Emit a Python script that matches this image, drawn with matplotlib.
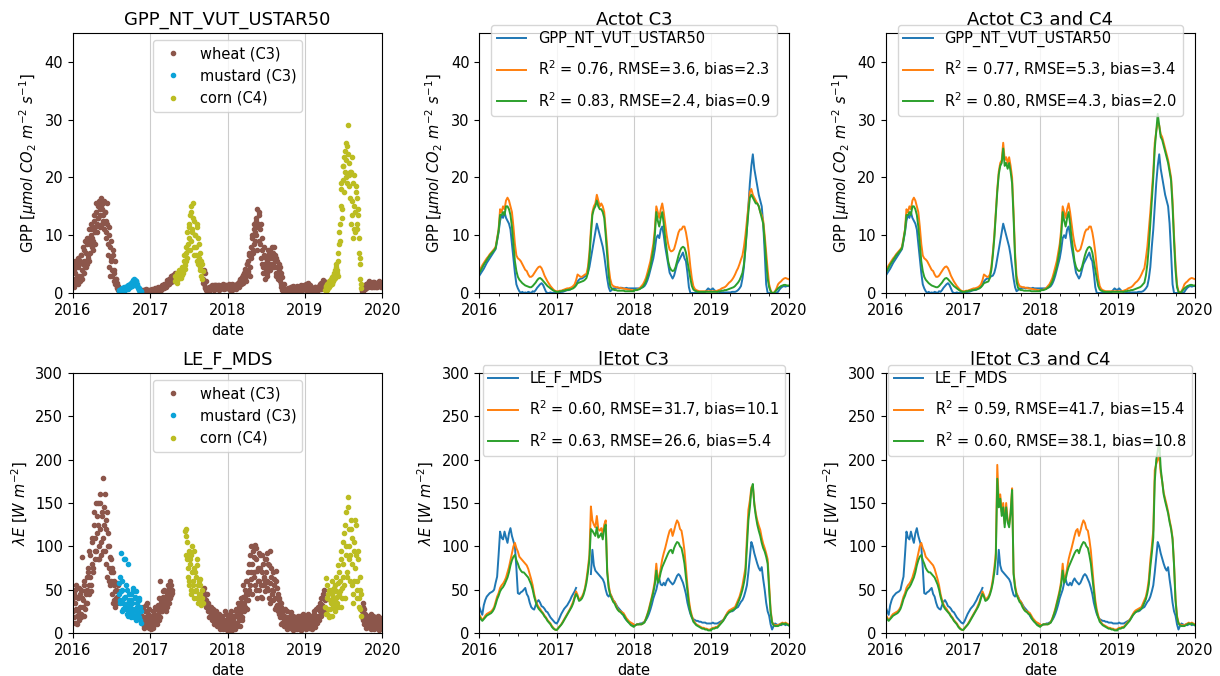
import numpy as np
import pandas as pd
import matplotlib
matplotlib.use('Agg')
from matplotlib import pyplot as plt
import matplotlib.dates as mdates

years = [2016, 2017, 2018, 2019]
nan = np.nan

# ---- weekly series (53 values per year, starting 1 Jan) ----
gpp_obs = [3, 3.4, 3.8, 4.2, 4.7, 5.2, 5.6, 6, 6.4, 6.8, 7.2, 7.6, 9,
           10.5, 12.5, 13.5, 13, 14, 13, 12.5, 12, 11, 8.5, 6, 3.5, 1.5,
           0.8, 0.3, 0, 0.2, 0, 0.1, 0, 0.2, 0.1, 0, 0.3, 0.2, 0.5,
           0.9, 1.2, 1.5, 1.7, 1.4, 0.8, 0.2, 0, 0, 0.1, 0, 0, 0, 0.1,
           0, 0, 0.1, 0.2, 0.2, 0.3, 0.4, 0.5, 0.5, 0.6, 0.8, 1, 1.2,
           1.6, 2, 2.3, 2.5, 2.5, 2.7, 2.9, 3, 3.5, 4.5, 6, 7.5, 9,
           10.5, 12, 11, 10, 9, 8, 6.5, 4.5, 2.5, 1, 0.3, 0.5, 0.8,
           0.8, 0.9, 0.9, 0.8, 0.9, 0.9, 0.8, 0.8, 0.9, 0.8, 0.8, 0.8, 0.8, 0.8,
           0.8, 0.8, 0.8, 0.8, 0.8, 0.9, 1, 1.2, 1.6, 2.2, 3, 4, 5,
           6, 7.5, 9.5, 10, 9.5, 11, 11.5, 10, 8, 6.5, 5, 3.5, 3,
           2.5, 3, 4, 5, 5.5, 6, 6.5, 7, 6, 5.5, 3.5, 1, 0,
           0, 0, 0, 0, 0, 0, 0, 0, 0, 0.2, 0.5, 0.8, 0.6, 0.5,
           0.6, 0.8, 0.5, 0.3, 0.2, 0.2, 0.1, 0.1, 0.1, 0.1, 0.1, 0.1, 0.1,
           0.1, 0.2, 0.2, 0.2, 0.3, 0.5, 0.8, 1.2, 2.5, 4.5, 8, 11, 15,
           19, 22, 24, 21.5, 20, 18.5, 17, 16, 15, 12, 7, 1.5, 0,
           0, 0, 0, 0, 0, 0, 0.2, 0.6, 0.9, 1.1, 1.2, 1.1, 1.2, 1.2]

gpp_mod1 = [4, 4.3, 4.8, 5.2, 5.6, 6, 6.3, 6.7, 7, 7.3, 7.6, 8, 9.5,
            11, 14.5, 14, 15, 14.5, 16, 16.5, 16, 15, 14, 11.5, 8.5, 6.5,
            6, 5.8, 5.5, 5, 4.5, 4, 3.8, 3.2, 2.8, 2.8, 3, 3.4, 3.8,
            4.2, 4.5, 4.6, 4.3, 3.7, 3, 2.5, 2, 1.6, 1.2, 0.9, 0.6, 0.4, 0.3,
            0.3, 0.3, 0.4, 0.4, 0.5, 0.6, 0.7, 0.8, 0.8, 0.9, 1, 1.2, 1.5,
            2.2, 3.2, 3, 2.8, 2.8, 3, 3.2, 3.3, 4.5, 7, 11, 14, 15,
            15.5, 17, 16, 15, 15.5, 15, 14, 11, 8, 4.5, 2.5, 1.5, 1.2,
            1.1, 1, 1, 0.9, 0.9, 0.8, 0.8, 0.7, 0.7, 0.6, 0.6, 0.5, 0.5, 0.5,
            0.5, 0.5, 0.6, 0.7, 0.9, 1.2, 1.5, 2, 2.6, 3.5, 4.5, 5.5, 7,
            8.5, 11, 15, 14, 13, 14.5, 15.5, 14, 12, 10, 8.5, 7.5, 7.2,
            7.3, 7.6, 8.5, 9.5, 10.5, 11, 11, 11.5, 11.5, 10.5, 9, 7, 4.5,
            2.5, 1.2, 0.7, 0.5, 0.4, 0.3, 0.3, 0.3, 0.3, 0.3, 0.3, 0.3, 0.3, 0.3,
            0.3, 0.3, 0.3, 0.3, 0.4, 0.5, 0.6, 0.8, 0.9, 1, 1.2, 1.5, 1.8,
            2, 2.3, 2.7, 3.2, 3.8, 4.3, 5, 5.8, 6.5, 8, 10, 12.5, 15,
            17.5, 18, 17, 16.5, 16, 15.5, 15, 14, 13.5, 12.5, 10, 7, 4,
            1.5, 0.5, 0, 0, 0.3, 0.8, 1.5, 1.8, 2, 2.3, 2.5, 2.6, 2.5, 2.4]

gpp_mod2 = [3.5, 3.9, 4.4, 4.9, 5.3, 5.7, 6.1, 6.5, 6.8, 7.1, 7.4, 7.8, 9.2,
            10.8, 13.5, 13.5, 14, 13.5, 15, 15, 14.5, 13.5, 11.5, 8.5, 5.5, 3.8,
            2.8, 2.3, 2, 1.7, 1.5, 1.3, 1.2, 1.1, 1, 1, 1.2, 1.5, 1.8,
            2.2, 2.5, 2.6, 2.4, 2.1, 1.8, 1.5, 1.2, 1, 0.8, 0.6, 0.4, 0.3, 0.2,
            0.2, 0.2, 0.3, 0.3, 0.4, 0.4, 0.5, 0.5, 0.6, 0.6, 0.7, 0.8, 1,
            1.3, 1.7, 1.8, 1.9, 2, 2.1, 2.3, 2.6, 3.5, 6, 10, 13.5, 14.5,
            15, 16, 15, 14.5, 14.5, 14, 13, 10, 6.5, 3, 1.2, 0.8, 0.6,
            0.5, 0.5, 0.4, 0.4, 0.4, 0.4, 0.4, 0.3, 0.3, 0.3, 0.3, 0.3, 0.3, 0.3,
            0.5, 0.5, 0.5, 0.6, 0.7, 0.9, 1.1, 1.5, 2, 2.8, 3.6, 4.5, 6,
            7.5, 10, 14, 12.5, 11.5, 13, 14, 12, 9.5, 7.5, 5.5, 4.5, 4,
            3.8, 3.9, 4.5, 5.5, 6.5, 7.3, 7.8, 8, 7.8, 7, 5.5, 4, 2.5,
            1.2, 0.6, 0.4, 0.3, 0.2, 0.2, 0.2, 0.2, 0.2, 0.2, 0.2, 0.2, 0.2, 0.2,
            0.2, 0.2, 0.2, 0.2, 0.2, 0.3, 0.3, 0.4, 0.4, 0.5, 0.5, 0.6, 0.7,
            0.8, 0.9, 1, 1.2, 1.5, 1.8, 2.2, 2.8, 3.5, 5, 7.5, 11, 14,
            16.5, 17, 16.5, 16, 15.5, 15.5, 15, 14, 13, 12, 9, 5.5, 2.5,
            1, 0.3, 0, 0, 0.2, 0.5, 0.8, 1, 1.2, 1.3, 1.4, 1.4, 1.3, 1.3]

# corn seasons when the C4 pathway is switched on (year, first week, values)
gpp_mod1_c4 = [(2017, 13, [2.2, 3.2, 3, 2.8, 2.8, 3.2, 4.5, 7, 10, 14, 18, 21, 22.5, 23,
                           26, 23, 23.5, 22.5, 23.5, 22, 20, 14, 7, 3, 1.8, 1.2, 1.1, 1.0]),
               (2019, 17, [3.8, 4.3, 6, 8, 11, 14, 17.5, 21, 26, 28, 29.5, 29, 27.5,
                           27, 26, 25, 24, 23, 21.5, 20, 16, 10, 5, 1.5, 0.3, 0])]
gpp_mod2_c4 = [(2017, 13, [1.3, 1.7, 1.8, 1.9, 2, 2.6, 4, 6.5, 9.5, 13.5, 17.5, 20.5, 22, 22.5,
                           25, 22, 22.5, 21.5, 22.5, 21, 19, 13, 6, 2, 0.9, 0.6, 0.5, 0.5]),
               (2019, 17, [1.5, 1.8, 3, 5, 8, 12, 16, 20, 25, 28, 31, 29, 27,
                           26.5, 25.5, 24.5, 23.5, 22.5, 21, 19.5, 15, 9, 4, 1, 0.2, 0])]

le_obs = [30, 25, 21, 32, 38, 42, 44, 46, 47, 48, 50, 58, 65,
          90, 117, 110, 108, 117, 110, 104, 115, 121, 112, 106, 100, 75,
          46, 45, 47, 48, 50, 52, 45, 42, 35, 30, 28, 27, 32,
          36, 38, 35, 31, 30, 28, 25, 24, 21, 18, 16, 14, 12, 11,
          11, 14, 18, 22, 25, 28, 30, 32, 35, 38, 42, 45, 48,
          52, nan, nan, nan, nan, nan, nan, nan, nan, nan, 68, 96, 78,
          72, 70, 68, 66, 64, 62, 58, 50, 44, 42, 45, 42, 38,
          36, 33, 30, 28, 26, 24, 20, 17, 15, 13, 12, 11, 10, 9,
          9, 9, 10, 10, 11, 11, 12, 13, 15, 18, 22, 27, 33,
          40, 45, 50, 58, 62, 56, 55, 58, 55, 60, 63, 60, 58,
          56, 58, 62, 66, 68, 66, 62, 58, 52, 45, 35, 28, 22,
          18, 16, 15, 14, 14, 13, 13, 12, 12, 12, 11, 11, 11, 11,
          11, 12, 11, 11, 11, 12, 13, 14, 15, 17, 20, 23, 24,
          25, 25, 26, 28, 29, 30, 33, 36, 38, 42, 48, 55, 70,
          88, 105, 100, 92, 86, 80, 75, 72, 76, 62, 50, 35, 25,
          20, 10, 4, 8, 11, 10, 9, 10, 9, 10, 11, 9, 10, 9]

le_mod1 = [21, 18, 15, 17, 20, 22, 23, 24, 25, 27, 30, 36, 42,
           46, 52, 55, 57, 60, 64, 70, 76, 84, 92, 100, 104, 98,
           94, 88, 86, 84, 82, 80, 78, 74, 68, 62, 55, 45, 38,
           33, 30, 28, 25, 23, 20, 18, 15, 13, 11, 8, 6, 4, 3.5,
           3.5, 6, 8, 10, 13, 16, 19, 22, 25, 28, 32, 36, 42,
           48, 44, 38, 40, 42, 46, 52, 62, 75, 90, 146, 130, 125,
           122, 135, 120, 118, 121, 115, 125, 130, 73, 55, 46, 42, 38,
           36, 32, 28, 26, 25, 24, 23, 20, 17, 15, 13, 12, 11, 10,
           8, 9, 10, 10, 10, 10, 11, 13, 17, 22, 28, 35, 42,
           50, 60, 80, 62, 65, 75, 85, 92, 98, 105, 112, 118, 120,
           112, 118, 125, 130, 127, 120, 118, 108, 95, 75, 55, 38, 27,
           20, 15, 12, 10, 9, 8, 7, 6, 6, 5, 5, 4, 4, 4,
           5, 6, 6, 7, 7, 9, 11, 13, 15, 18, 21, 24, 26,
           27, 28, 29, 30, 34, 38, 42, 48, 55, 65, 75, 110, 142,
           153, 168, 170, 150, 138, 130, 124, 119, 110, 103, 98, 92, 85,
           55, 27, 13, 10, 9, 9, 9, 10, 11, 12, 11, 12, 11, 10]

le_mod2 = [19, 16, 14, 16, 18, 20, 21, 22, 23, 25, 28, 33, 39,
           43, 48, 51, 53, 56, 60, 64, 70, 78, 84, 88, 90, 84,
           80, 75, 72, 70, 70, 68, 66, 64, 60, 56, 50, 42, 36,
           31, 28, 26, 24, 22, 19, 17, 14, 12, 10, 7, 5, 4, 3.5,
           3.5, 5.5, 7.5, 9.5, 12, 15, 18, 21, 24, 27, 30, 34, 40,
           45, 42, 37, 38, 40, 44, 50, 58, 70, 85, 120, 118, 115,
           112, 122, 110, 112, 115, 108, 120, 125, 70, 52, 44, 40, 36,
           34, 30, 27, 25, 24, 22, 21, 18, 15, 13, 11, 9, 8, 7,
           8, 9, 10, 10, 10, 10, 11, 12, 16, 21, 26, 33, 40,
           47, 56, 72, 58, 62, 70, 76, 80, 84, 88, 92, 95, 96,
           92, 98, 102, 105, 104, 100, 98, 90, 80, 64, 48, 33, 24,
           18, 13, 11, 9, 8, 7, 6, 5, 5, 4, 4, 3, 3, 3,
           4, 5, 5, 6, 6, 8, 10, 12, 14, 17, 20, 22, 24,
           25, 26, 27, 28, 31, 35, 39, 44, 50, 58, 68, 98, 130,
           145, 165, 172, 148, 135, 125, 118, 112, 104, 98, 94, 88, 80,
           50, 24, 12, 9, 8, 8, 8, 9, 10, 11, 10, 11, 10, 9]

le_mod1_c4 = [(2017, 17, [42, 46, 52, 62, 75, 92, 194, 150, 160, 140, 150, 126, 150,
                          130, 125, 140, 167, 70, 55, 46]),
              (2019, 20, [50, 62, 84, 100, 119, 188, 195, 200, 205, 185, 175, 162, 155,
                          148, 140, 130, 122, 110, 80, 40, 20, 12])]
le_mod2_c4 = [(2017, 17, [40, 44, 50, 58, 70, 86, 178, 145, 155, 135, 145, 122, 145,
                          128, 122, 138, 165, 68, 52, 44]),
              (2019, 20, [46, 56, 76, 92, 110, 175, 200, 210, 222, 190, 175, 160, 152,
                          145, 138, 128, 120, 108, 78, 38, 18, 11])]

# ---- flux tower daily values: every 4th day from 1 Jan (92 per year) ----
gpp_pts = [2.5, 4.0, 1.5, 3.5, 5.0, 2.0, 4.5, 3.0, 5.5, 3.0, 6.5, 2.5, 5.0, 7.5, 4.5,
           7.0, 5.0, 8.5, 6.0, 9.0, 7.0, 10.0, 8.0, 11.0, 9.0, 12.5, 10.5, 14.0, 12.0, 15.0,
           13.0, 16.0, 14.5, 16.5, 12.0, 15.5, 13.5, 11.0, 14.0, 9.5, 12.0, 6.5, 10.0, 4.5, 8.0,
           5.5, 3.0, 6.5, 2.0, 4.0, 1.5, 2.5, 0.8, 0.5,
           0.3, 0.5, 0.4, 0.6, 0.5, 0.8, 0.6, 0.9, 0.7, 1.0, 1.2, 0.9, 1.4, 1.1,
           1.6, 1.3, 1.9, 2.2, 1.5, 2.3, 1.8, 2.1, 1.2, 0.8, 0.5, 0.4, 0.3,
           0.2, 0.5, 0.3, 0.6, 0.4, 0.2, 0.5, 0.3, 0.6, 0.4, 0.5,
           # 2017
           0.5, 0.3, 0.6, 0.4, 0.7, 0.5, 0.3, 0.6, 0.8, 0.5, 0.9, 0.6, 1.0, 0.7, 1.1,
           1.2, 0.9, 1.5, 1.1, 1.8, 1.4, 2.0, 1.6, 2.4, 1.9, 2.8, 2.2, 3.2, 2.6,
           2.0, 2.8, 1.8, 3.2, 2.5, 3.6, 2.9, 3.8, 3.1, 4.2, 3.5, 5.5, 4.8, 7.0, 6.0, 8.5,
           9.5, 12.0, 7.5, 14.0, 10.5, 15.5, 8.0, 12.5, 10.0, 6.5, 11.5, 5.0, 8.5, 4.0, 7.0,
           3.0, 5.0,
           2.5, 1.5, 3.5, 1.0, 0.6, 0.3, 0.2, 0.4, 0.8, 1.2, 0.9, 1.4, 0.7, 1.1,
           1.3, 0.8, 1.2, 0.9, 1.4, 1.0, 0.7, 1.2, 0.9, 1.3, 0.8, 1.1, 1.4, 0.9, 1.2, 1.0,
           # 2018
           1.2, 0.8, 1.5, 0.9, 1.3, 0.6, 1.1, 0.9, 1.0, 1.4, 0.8, 1.6, 1.2, 1.9, 1.5,
           2.2, 1.6, 2.8, 2.0, 3.5, 2.5, 4.2, 3.0, 5.0, 3.8, 6.5, 4.5, 8.0, 6.0, 9.5,
           7.5, 11.0, 9.0, 12.5, 10.0, 14.5, 11.5, 13.5, 8.5, 12.0, 5.0, 9.5, 3.5, 6.5, 2.5,
           4.0, 5.5, 3.0, 6.5, 4.5, 7.5, 5.0, 8.0, 6.0, 7.0, 4.5, 6.5, 3.5, 5.5, 2.5, 4.0,
           3.0, 4.5, 1.5, 2.8, 0.8, 1.5, 0.5, 0.5, 0.2, 0.6, 0.3, 0.8, 0.4, 0.7, 1.0,
           0.6, 1.2, 0.8, 1.0, 0.5, 0.9, 0.4, 0.7, 1.1, 0.5, 0.9, 1.3, 0.6, 1.0, 0.8, 1.2,
           # 2019
           0.8, 1.5, 0.5, 1.8, 1.0, 0.6, 1.2, 0.4, 0.7, 0.3, 0.9, 0.5, 1.1, 0.4, 0.8,
           0.6, 1.2, 0.9, 1.5, 1.0, 1.8, 1.3, 2.0, 1.6,
           0.5, 1.2, 0.8, 1.6, 1.0, 2.0, 1.4, 2.2, 1.8, 3.0, 2.5, 4.0, 3.2, 4.5,
           4.0, 5.5, 8.5, 12.0, 15.0, 19.0, 14.5, 22.0, 17.5, 24.5, 20.0, 23.0, 25.5, 29.0, 18.5,
           21.0, 12.0, 23.5, 16.0, 9.5, 20.5, 14.0, 17.5, 11.0, 16.5, 13.5, 7.0, 5.0, 1.5,
           0.3, 0.8, 0.5, 1.2, 0.9, 1.5, 1.1, 1.8, 1.3, 2.0, 1.4, 1.7, 1.0, 1.6, 1.2, 1.9,
           1.5, 1.0, 1.8, 1.3, 2.0, 1.4, 1.7, 1.1, 1.5]

# same, two days later
gpp_pts2 = [4.5, 1.0, 5.5, 2.0, 3.0, 6.0, 1.5, 5.0, 2.0, 6.5, 4.0, 8.0, 3.5, 5.5, 9.0,
            4.5, 9.5, 6.5, 11.0, 5.5, 8.5, 12.0, 9.5, 7.5, 13.5, 8.5, 11.5, 15.5, 10.5, 13.0,
            15.5, 11.5, 13.5, 15.0, 14.5, 12.5, 16.0, 14.0, 10.5, 12.5, 15.5, 8.5, 11.5, 3.0, 6.0,
            9.0, 4.0, 7.5, 3.5, 5.5, 2.5, 1.0, 1.8, 1.2,
            0.5, 0.3, 0.7, 0.4, 0.9, 0.5, 1.0, 0.6, 1.1, 0.8, 0.7, 1.3, 1.0, 1.5,
            1.8, 1.2, 2.0, 1.7, 2.4, 1.4, 2.0, 1.6, 1.0, 0.6, 0.8, 0.3, 0.2,
            0.4, 0.2, 0.6, 0.3, 0.5, 0.7, 0.2, 0.4, 0.3, 0.6, 0.2,
            # 2017
            0.4, 0.7, 0.2, 0.5, 0.3, 0.8, 0.6, 0.4, 0.5, 1.0, 0.7, 0.9, 0.6, 1.3, 0.9,
            1.0, 1.6, 1.3, 1.2, 2.2, 1.6, 1.7, 2.5, 2.0, 3.0, 2.3, 2.0, 2.9, 3.4,
            3.0, 2.3, 3.5, 2.6, 4.0, 2.8, 3.3, 2.6, 4.5, 3.8, 6.5, 4.2, 8.0, 5.5, 10.5,
            7.5, 11.5, 13.5, 9.0, 15.0, 11.0, 13.0, 6.5, 10.0, 8.0, 12.0, 5.5, 9.5, 6.0, 4.5,
            5.5, 2.5, 3.8,
            1.8, 4.0, 0.8, 2.0, 0.4, 0.5, 0.6, 1.0, 0.5, 0.9, 1.2, 0.8, 1.3, 0.6, 1.0,
            1.4, 0.7, 1.1, 0.6, 1.3, 1.2, 0.8, 1.0, 1.5, 0.7, 1.2, 0.9, 1.3, 0.8, 1.4,
            # 2018
            0.9, 1.4, 0.6, 1.2, 0.8, 1.5, 0.7, 1.3, 1.3, 0.7, 1.2, 1.0, 1.8, 1.1, 2.4,
            1.5, 2.4, 1.8, 3.2, 2.6, 3.8, 2.0, 5.0, 3.5, 5.5, 7.0, 3.0, 6.5, 10.0, 7.0,
            12.0, 8.5, 10.5, 13.0, 7.5, 12.0, 14.0, 9.0, 11.0, 6.0, 7.5, 4.5, 8.0, 5.0, 4.5,
            6.0, 3.5, 7.5, 5.0, 4.0, 6.0, 7.0, 4.5, 5.0, 8.0, 5.5, 3.0, 6.0, 4.5, 3.5, 5.0,
            2.0, 3.5, 1.0, 0.5, 1.2, 0.3, 0.6, 0.3, 0.6, 0.4, 0.9, 0.2, 0.6, 1.1, 0.5,
            0.9, 0.5, 1.1, 0.7, 0.8, 1.2, 0.6, 0.9, 0.6, 1.2, 0.7, 0.5, 1.0, 0.7, 1.4, 0.9,
            # 2019
            1.2, 0.5, 1.6, 0.9, 0.4, 1.3, 0.7, 0.9, 0.5, 0.8, 0.3, 1.0, 0.6, 0.9, 0.5,
            1.1, 0.8, 1.4, 0.7, 1.7, 1.2, 2.2, 1.5, 1.0,
            1.0, 0.6, 1.5, 0.9, 2.0, 1.3, 2.4, 1.6, 2.8, 2.0, 3.4, 2.6, 5.0, 3.5,
            3.0, 7.0, 10.5, 9.0, 18.0, 13.0, 22.0, 19.5, 23.5, 21.0, 26.0, 19.0, 24.0, 22.5, 20.5,
            16.5, 21.0, 13.5, 19.0, 11.0, 15.0, 10.5, 18.5, 12.0, 14.5, 9.5, 6.0, 2.5, 0.8,
            0.6, 0.4, 1.0, 0.7, 1.3, 0.8, 1.6, 1.0, 1.5, 1.2, 1.8, 1.1, 1.5, 1.9, 1.0, 1.4,
            1.2, 1.7, 1.0, 1.6, 1.9, 1.2, 1.4, 1.8, 1.3]

le_pts = [25, 45, 12, 35, 55, 20, 40, 15, 30, 50, 22, 88, 38, 55, 28,
          45, 65, 35, 75, 55, 90, 48, 80, 105, 70, 140, 95, 150, 115, 85,
          125, 100, 160, 90, 135, 179, 110, 145, 95, 130, 65, 115, 75, 100, 55,
          85, 45, 70, 38, 60, 30, 50, 42, 48,
          45, 65, 35, 92, 50, 28, 40, 85, 30, 55, 22, 80, 38, 25,
          45, 18, 35, 52, 20, 40, 15, 48, 30, 22, 38, 15, 25,
          20, 12, 30, 8, 25, 15, 35, 10, 22, 6, 18,
          # 2017
          12, 5, 18, 8, 22, 10, 28, 14, 20, 32, 15, 60, 25, 38, 30,
          42, 28, 35, 48, 30, 45, 38, 52, 40, 55, 46,
          nan, nan, nan, nan, nan, nan, nan, nan, nan, nan, nan, nan, nan, nan, nan,
          118, 120, 85, 65, 95, 55, 80, 45, 100, 60, 75, 40,
          70, 50, 85, 35, 60, 45, 55, 32, 40,
          48, 40, 45, 35, 38, 30, 32, 25, 28, 20, 30, 18, 24, 15,
          20, 12, 25, 10, 18, 8, 15, 6, 12, 20, 5, 14, 9, 22, 4, 11,
          # 2018
          8, 18, 4, 12, 25, 6, 15, 10, 20, 5, 28, 12, 18, 30, 8,
          22, 35, 15, 42, 25, 50, 30, 45, 60, 38, 80, 55, 100, 70, 45,
          95, 65, 102, 50, 85, 40, 75, 60, 90, 55, 70, 40, 80, 62, 48,
          85, 60, 92, 50, 78, 35, 65, 45, 70, 38, 55, 28, 60, 32, 45, 22,
          40, 18, 30, 12, 25, 15, 20, 8, 18, 5, 14, 10, 20, 6, 12,
          15, 4, 10, 18, 7, 12, 5, 14, 8, 20, 4, 11, 16, 6, 10, 13,
          # 2019
          10, 5, 15, 8, 20, 12, 6, 14, 9, 18, 12, 22, 7, 16, 11,
          20, 28, 15, 35, 22, 30, 40, 25, 50,
          30, 63, 22, 45, 18, 38, 28, 50, 20, 42, 32, 55, 25, 48,
          35, 78, 45, 60, 30, 95, 52, 80, 115, 40, 100, 140, 65, 157, 120,
          90, 130, 55, 110, 35, 95, 75, 125, 60, 40, 85, 30, 50, 20,
          25, 35, 15, 28, 10, 20, 8, 15, 12, 18, 6, 14, 9, 20, 5, 12,
          16, 7, 11, 15, 4, 13, 9, 17, 8]

le_pts2 = [40, 18, 50, 28, 10, 42, 25, 52, 45, 18, 40, 30, 60, 20, 48,
           35, 50, 70, 45, 95, 65, 55, 110, 75, 125, 85, 110, 95, 135, 150,
           85, 150, 120, 105, 140, 95, 125, 160, 120, 80, 140, 100, 60, 88, 70,
           60, 75, 35, 55, 48, 40, 58, 35, 55,
           58, 38, 48, 25, 60, 35, 85, 42, 28, 50, 35, 20, 45, 30,
           38, 22, 48, 28, 18, 42, 25, 35, 20, 40, 18, 30, 12,
           14, 28, 6, 18, 12, 32, 15, 8, 28, 12, 20,
           # 2017
           8, 15, 25, 6, 12, 30, 18, 10, 28, 22, 40, 18, 35, 25, 48,
           32, 50, 38, 25, 42, 55, 35, 48, 60, 44, 50,
           nan, nan, nan, nan, nan, nan, nan, nan, nan, nan, nan, nan, nan, nan, nan,
           112, 90, 105, 75, 60, 85, 50, 90, 70, 55, 95, 48,
           65, 40, 78, 55, 45, 62, 38, 50, 35,
           42, 52, 35, 30, 45, 25, 35, 18, 30, 22, 15, 28, 20, 10,
           25, 15, 8, 20, 12, 22, 5, 18, 10, 15, 8, 25, 12, 6, 16, 9,
           # 2018
           15, 5, 22, 10, 3, 18, 8, 20, 12, 25, 8, 20, 35, 15, 25,
           40, 18, 30, 55, 35, 40, 60, 28, 45, 70, 50, 90, 62, 80, 100,
           70, 88, 55, 98, 72, 60, 92, 50, 75, 42, 90, 55, 65, 85, 58,
           70, 52, 80, 40, 95, 58, 75, 50, 48, 62, 40, 72, 30, 52, 25, 38,
           28, 35, 10, 22, 18, 8, 28, 14, 25, 10, 6, 16, 8, 24, 10,
           8, 20, 12, 5, 16, 9, 20, 6, 18, 12, 3, 15, 9, 22, 7, 12,
           # 2019
           18, 8, 12, 22, 6, 16, 10, 20, 5, 14, 25, 10, 18, 28, 14,
           30, 18, 25, 40, 20, 32, 45, 28, 38,
           22, 40, 55, 28, 50, 20, 35, 45, 60, 30, 52, 38, 65, 42,
           58, 30, 70, 48, 85, 40, 65, 105, 55, 125, 90, 70, 145, 85, 100,
           60, 120, 80, 45, 105, 60, 130, 90, 50, 95, 40, 65, 28, 45,
           18, 30, 10, 22, 6, 14, 20, 8, 16, 10, 22, 5, 15, 12, 8, 18,
           10, 14, 6, 20, 11, 7, 15, 10, 12]

# crop calendar: season start dates and which crop was grown
crop_names = ['wheat (C3)', 'mustard (C3)', 'corn (C4)']
crop_colors = ['tab:brown', '#0ba3d8', 'tab:olive']
season_start = ['2016-01-01', '2016-08-03', '2016-11-19', '2017-04-26',
                '2017-09-05', '2019-04-06', '2019-09-25']
season_crop = [0, 1, 0, 2, 0, 2, 0]

gpp_metrics = {'C3': ['0.76, RMSE=3.6, bias=2.3', '0.83, RMSE=2.4, bias=0.9'],
               'C3 and C4': ['0.77, RMSE=5.3, bias=3.4', '0.80, RMSE=4.3, bias=2.0']}
le_metrics = {'C3': ['0.60, RMSE=31.7, bias=10.1', '0.63, RMSE=26.6, bias=5.4'],
              'C3 and C4': ['0.59, RMSE=41.7, bias=15.4', '0.60, RMSE=38.1, bias=10.8']}

# ---- build time axes ----
week_dates = pd.DatetimeIndex(np.concatenate(
    [pd.date_range(f'{y}-01-01', periods=53, freq='7D').values for y in years]))
day_dates = pd.DatetimeIndex(np.concatenate(
    [pd.date_range(f'{y}-01-01', periods=92, freq='4D').values for y in years]))
day_dates = day_dates.append(day_dates + pd.Timedelta(days=2))


def with_c4(series, patches):
    out = np.array(series, dtype=float)
    for yr, wk, vals in patches:
        i0 = 53 * years.index(yr) + wk
        out[i0:i0 + len(vals)] = vals
    return out


crop_of_day = np.array(season_crop)[
    np.searchsorted(pd.to_datetime(season_start).values, day_dates.values, side='right') - 1]

plt.rcParams['font.size'] = 10.5
fig, axes = plt.subplots(2, 3, figsize=(12.2, 6.76), dpi=100)
fig.subplots_adjust(left=0.0598, right=0.9795, top=0.9512, bottom=0.0636,
                    wspace=0.314, hspace=0.3077)

gpp_label = r'GPP [$\mu mol\ CO_2\ m^{-2}\ s^{-1}$]'
le_label = r'$\lambda E$ [$W\ m^{-2}$]'

rows = [('GPP_NT_VUT_USTAR50', 'Actot', gpp_label, 45, 10, gpp_pts + gpp_pts2, gpp_obs,
         gpp_mod1, gpp_mod2, gpp_mod1_c4, gpp_mod2_c4, gpp_metrics),
        ('LE_F_MDS', 'lEtot', le_label, 300, 50, le_pts + le_pts2, le_obs,
         le_mod1, le_mod2, le_mod1_c4, le_mod2_c4, le_metrics)]

for r, (obs_name, mod_name, ylab, ytop, ystep, pts, obs, m1, m2, m1c4, m2c4, metrics) in enumerate(rows):
    # tower data coloured by crop
    ax = axes[r, 0]
    pts = np.array(pts, dtype=float)
    for c in range(3):
        sel = crop_of_day == c
        ax.plot(day_dates[sel], pts[sel], '.', color=crop_colors[c], label=crop_names[c])
    ax.set_title(obs_name, fontsize=13)
    ax.legend(loc='upper center')

    # model runs against the tower data
    for col, case in [(1, 'C3'), (2, 'C3 and C4')]:
        ax = axes[r, col]
        y1 = np.array(m1, dtype=float) if case == 'C3' else with_c4(m1, m1c4)
        y2 = np.array(m2, dtype=float) if case == 'C3' else with_c4(m2, m2c4)
        ax.plot(week_dates, obs, color='tab:blue', lw=1.4, label=obs_name)
        ax.plot(week_dates, y1, color='tab:orange', lw=1.4,
                label='R$^2$ = ' + metrics[case][0])
        ax.plot(week_dates, y2, color='tab:green', lw=1.4,
                label='R$^2$ = ' + metrics[case][1])
        ax.set_title(f'{mod_name} {case}', fontsize=13)
        ax.legend(loc='upper center', bbox_to_anchor=(0.5, 1.03), borderaxespad=0,
                  labelspacing=0.75)
        ax.xaxis.set_minor_locator(mdates.MonthLocator(bymonth=[4, 7, 10]))

    for ax in axes[r]:
        ax.set_xlim(pd.Timestamp('2016-01-01'), pd.Timestamp('2020-01-01'))
        ax.set_ylim(0, ytop)
        ax.set_yticks(np.arange(0, ytop + 1, ystep))
        ax.xaxis.set_major_locator(mdates.YearLocator())
        ax.xaxis.set_major_formatter(mdates.DateFormatter('%Y'))
        ax.grid(axis='x', which='major', color='#cccccc', lw=0.8)
        ax.set_axisbelow(True)
        ax.set_xlabel('date')
        ax.set_ylabel(ylab)

fig.savefig('out.png', dpi=100)
